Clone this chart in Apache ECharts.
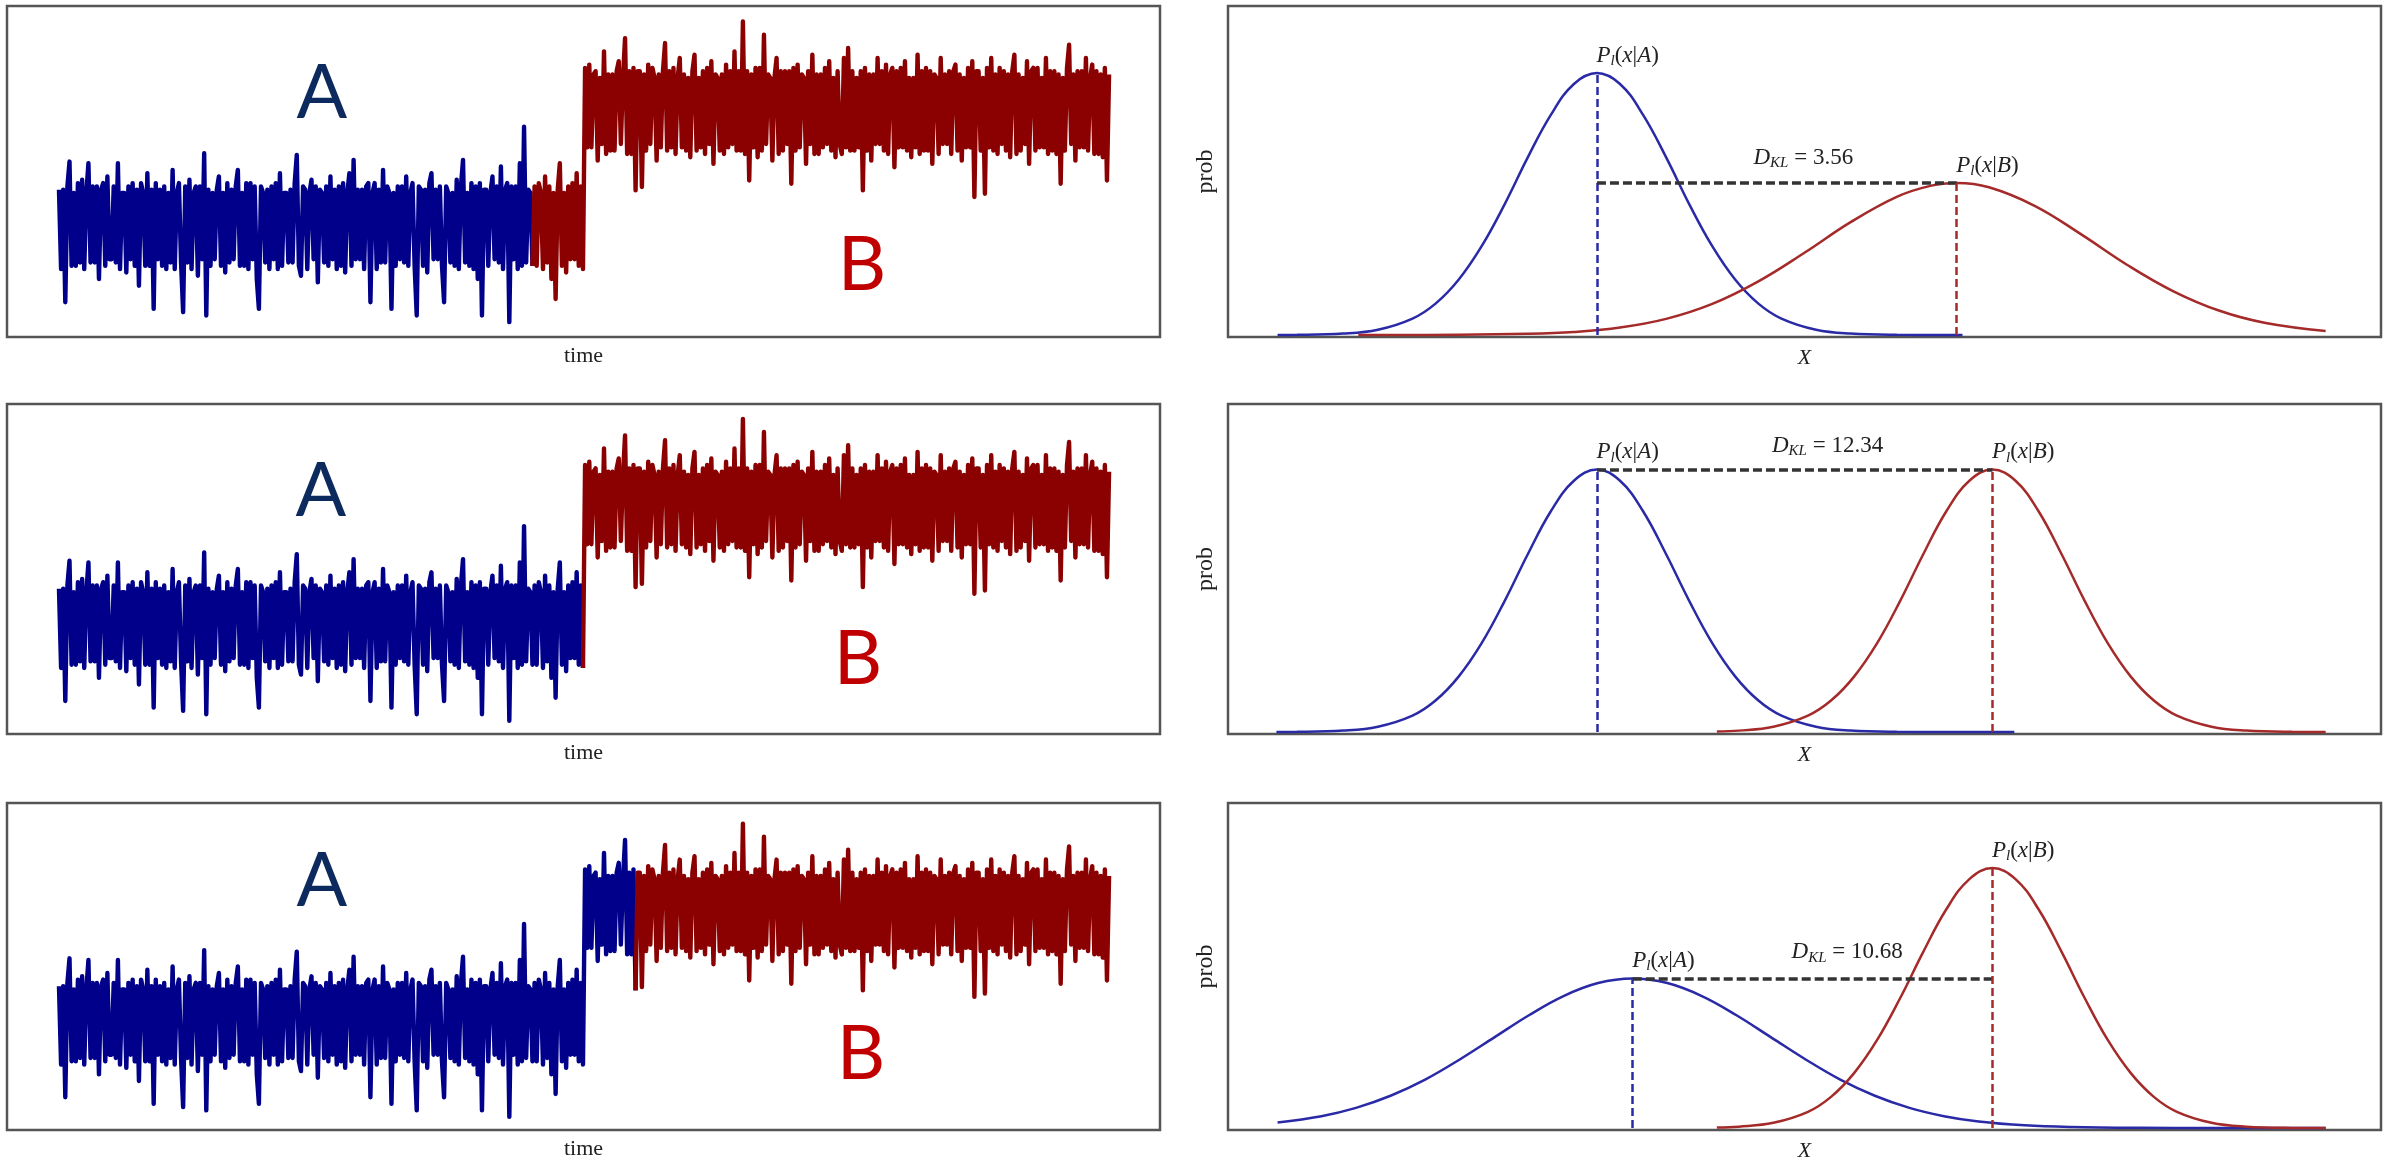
<!DOCTYPE html>
<html>
<head>
<meta charset="utf-8">
<script src="https://cdn.jsdelivr.net/npm/echarts@6.0.0/dist/echarts.min.js"></script>
<style>
  html, body { margin: 0; padding: 0; background: #fff; }
  #chart { width: 2394px; height: 1163px; }
</style>
</head>
<body>
<div id="chart"></div>
<script>
// noise trace (same realisation in all three rows)
const noise = [
  1.1, -1.3, 1.1, -2.3, 1.2, 1.95, -1.2, 1.0, -1.2, 1.3, -1.1, 1.4, -1.3, 1.0, 1.9, -1.1, 1.2, -1.1, 1.2, -1.6, 1.1, 1.3, -1.2, 1.5, -1.0,
  -1.0, 1.2, -1.1, 1.9, -1.3, 1.0, 1.0, -1.4, 1.2, -1.0, 1.3, -1.2, 1.1, -1.8, 1.3, 1.0, -1.2, 1.6, -1.2, 1.1, -2.5, 1.3, -1.0, 1.1, -1.2,
  1.2, -1.3, 1.0, -1.1, 1.7, -1.3, 1.0, 1.3, -1.1, -2.6, 1.2, -1.1, 1.4, -1.3, 1.0, 1.2, -1.5, 1.2, -1.0, 2.2, -2.7, 1.1, -1.2, 1.0, -1.0,
  1.1, 1.5, -1.2, 1.0, -1.4, 1.3, -1.1, 1.1, -1.0, 1.2, 1.7, -1.2, 1.0, -1.2, 1.3, -1.3, 1.3, -1.0, 1.2, -1.6, -2.5, 1.2, 1.0, -1.1, 1.1,
  -1.3, 1.2, -1.0, 1.3, -1.3, 1.6, -1.2, 1.0, 1.0, -1.1, 1.1, -1.1, 1.3, 2.15, -1.2, -1.5, 1.2, 1.1, -1.3, 1.0, 1.4, -1.0, 1.2, -1.7, 1.1,
  1.0, -1.1, 1.2, -1.2, 1.5, -1.0, 1.1, -1.3, 1.2, -1.2, 1.3, -1.4, 1.0, 1.6, -1.2, 2.0, -1.0, 1.1, -1.0, 1.1, -1.3, 1.2, 1.3, -2.3, 1.0,
  1.3, -1.3, 1.1, -1.1, 1.7, -1.1, 1.2, 1.0, -2.5, 1.0, -1.2, 1.2, -1.0, 1.2, -1.1, 1.5, -1.2, 1.0, 1.3, -1.2, -2.7, 1.2, 1.1, -1.2, 1.1,
  -1.4, 1.3, 1.6, -1.0, 1.1, -1.0, 1.2, -1.2, -2.3, 1.2, 1.0, -1.1, 1.0, -1.2, 1.4, -1.3, 1.2, 2.0, -1.1, 1.0, -1.2, 1.3, -1.3, 1.2, -1.6,
  1.3, -2.7, 1.1, 1.1, -1.2, 1.0, 1.5, -1.0, 1.2, -1.1, 1.8, -1.3, 1.1, 1.3, -2.9, 1.2, -1.0, 1.2, -1.3, 1.9, -1.2, 3.0, -1.1, 1.1, 1.0,
  -1.2, 1.2, -1.2, 1.3, 1.0, -1.3, 1.5, -1.1, 1.2, -1.6, 1.0, -2.2, 1.1, 1.9, -1.2, 1.0, -1.4, 1.2, -1.0, 1.3, -1.0, 1.6, -1.2, 1.2, -1.3,
  1.3, -1.1, 1.4, -1.1, 1.1, 1.2, -1.5, 1.0, -1.0, 1.8, -1.3, 1.1, -1.2, 1.1, -1.2, 1.2, 1.5, -1.0, 1.0, 2.2, -1.3, 1.2, -1.3, 1.3, -2.4,
  1.2, 1.2, -2.3, 1.1, -1.2, 1.4, -1.0, 1.3, 1.0, -1.5, 1.1, -1.1, 1.2, 2.05, -1.2, 1.2, -1.1, 1.3, -1.3, 1.0, 1.6, -1.1, 1.1, -1.2, 1.0,
  -1.4, 1.2, 1.7, -1.2, 1.0, -1.1, 1.2, -1.3, 1.3, -1.0, 1.5, -1.6, 1.1, 1.0, -1.2, 1.1, -1.3, 1.4, -1.1, 1.2, -1.0, 1.8, -1.2, 1.2, -1.2,
  2.7, -1.3, 1.2, -2.1, 1.1, -1.1, 1.3, -1.4, 1.3, -1.2, 2.3, -1.0, 1.1, 1.0, -1.5, 1.0, 1.6, -1.3, 1.2, -1.2, 1.2, -1.0, 1.2, -2.2, 1.3,
  -1.2, 1.4, -1.1, 1.1, 1.0, -1.6, 1.2, -1.0, 1.7, -1.3, 1.1, -1.3, 1.1, -1.1, 1.3, -1.0, 1.5, -1.2, 1.0, -1.4, 1.2, -1.0, -1.3, 1.6, -1.1,
  1.9, -1.2, 1.2, -1.2, 1.0, -1.1, 1.2, -2.4, 1.3, -1.2, 1.1, -1.5, 1.1, -1.0, 1.6, -1.0, 1.2, -1.2, 1.4, -1.3, 1.1, 1.3, -1.7, 1.2, -1.1,
  1.3, -1.1, 1.5, -1.2, 1.0, -1.4, 1.0, -1.1, 1.7, -1.3, 1.2, -1.2, 1.3, -1.2, 1.2, -1.6, 1.1, 1.0, -1.3, 1.6, -1.0, 1.1, -1.0, 1.2, -1.3,
  1.2, 1.4, -1.2, 1.1, -1.5, 1.0, -1.1, 1.3, -1.1, 1.5, -2.6, 1.2, 1.2, -1.2, 1.0, -2.5, 1.3, -1.1, 1.6, -1.2, 1.1, -1.3, 1.3, -1.0, 1.2,
  -1.2, 1.1, -1.4, 1.2, 1.7, -1.3, 1.1, -1.2, 1.0, -1.0, 1.5, -1.6, 1.2, 1.3, -1.2, 1.3, -1.1, 1.0, -1.1, 1.6, -1.3, 1.2, -1.2, 1.2, -1.3,
  1.1, -2.2, 1.0, -1.2, 1.3, 2.0, -1.0, 1.1, -1.5, 1.2, -1.1, 1.2, -1.1, 1.6, -1.2, 1.0, 1.4, -1.3, 1.2, -1.3, 1.1, -1.4, 1.3, -2.1, 1.1
]
const stepAt = 250 // index where the mean jumps up
const levelsTop = [3.35, 6.83]
const levelsMid = [3.3, 6.85]
const levelsBot = [3.3, 6.67]
const splitTop = 225 // blue -> red
const splitMid = 249
const splitBot = 274

// density curves [x, prob]
const topA = [[4.3, 0.0002], [6, 0.0005], [10, 0.0043], [13, 0.0161], [16, 0.050], [18, 0.0955], [20, 0.168], [22, 0.270], [24, 0.398], [26, 0.540], [28, 0.669], [30, 0.763], [32, 0.796], [34, 0.763], [36, 0.669], [38, 0.540], [40, 0.398], [42, 0.270], [44, 0.168], [46, 0.0955], [48, 0.050], [51, 0.0161], [54, 0.0043], [58, 0.0005], [62, 0], [63.7, 0]]
const topB = [[11.3, 0], [20, 0.0006], [26, 0.0035], [30, 0.0094], [34, 0.0227], [38, 0.049], [42, 0.0945], [46, 0.163], [50, 0.250], [54, 0.343], [58, 0.420], [61, 0.454], [63.2, 0.462], [66, 0.449], [70, 0.392], [74, 0.306], [78, 0.213], [82, 0.133], [86, 0.0737], [90, 0.0366], [95.2, 0.0124]]
const midA = [[4.2, 0.0002], [6, 0.0005], [10, 0.0043], [13, 0.0162], [16, 0.050], [18, 0.096], [20, 0.169], [22, 0.271], [24, 0.400], [26, 0.542], [28, 0.673], [30, 0.766], [32, 0.80], [34, 0.766], [36, 0.673], [38, 0.542], [40, 0.400], [42, 0.271], [44, 0.169], [46, 0.096], [48, 0.050], [51, 0.0162], [54, 0.0043], [58, 0.0005], [62, 0], [68.2, 0]]
const midB = [[42.4, 0.0017], [44.3, 0.0043], [47.3, 0.0162], [50.3, 0.050], [52.3, 0.096], [54.3, 0.169], [56.3, 0.271], [58.3, 0.400], [60.3, 0.542], [62.3, 0.673], [64.3, 0.766], [66.3, 0.80], [68.3, 0.766], [70.3, 0.673], [72.3, 0.542], [74.3, 0.400], [76.3, 0.271], [78.3, 0.169], [80.3, 0.096], [82.3, 0.050], [85.3, 0.0162], [88.3, 0.0043], [92.3, 0.0005], [95.2, 0.0001]]
const botA = [[4.3, 0.017], [8.1, 0.0366], [11.1, 0.0622], [14.1, 0.0994], [17.1, 0.149], [20.1, 0.211], [23.1, 0.279], [26.1, 0.347], [29.1, 0.406], [32.1, 0.446], [35.1, 0.46], [38.1, 0.446], [41.1, 0.406], [44.1, 0.347], [47.1, 0.279], [50.1, 0.211], [53.1, 0.149], [56.1, 0.0994], [59.1, 0.0622], [62.1, 0.0366], [65.1, 0.0202], [69.1, 0.0083], [73.1, 0.0031], [79.1, 0.0006], [85.1, 0.0001], [95.2, 0]]
const botB = [[42.4, 0.0017], [44.3, 0.0043], [47.3, 0.0162], [50.3, 0.050], [52.3, 0.096], [54.3, 0.169], [56.3, 0.271], [58.3, 0.400], [60.3, 0.542], [62.3, 0.673], [64.3, 0.766], [66.3, 0.80], [68.3, 0.766], [70.3, 0.673], [72.3, 0.542], [74.3, 0.400], [76.3, 0.271], [78.3, 0.169], [80.3, 0.096], [82.3, 0.050], [85.3, 0.0162], [88.3, 0.0043], [92.3, 0.0005], [95.2, 0.0001]]

const muTop = [32, 63.2]
const peakTop = [0.796, 0.462]
const muMid = [32, 66.3]
const peakMid = [0.80, 0.80]
const muBot = [35.1, 66.3]
const peakBot = [0.46, 0.80]
const dklText = ['3.56', '12.34', '10.68']
const dklAt = [[49.9, 0.538], [52.0, 0.872], [53.7, 0.541]]

const serif = 'Liberation Serif'
const navy = '#00008b'
const maroon = '#8b0000'
const blueC = '#2a2aa6'
const redC = '#a52a2a'

const rows = [{ top: 6, height: 331 }, { top: 404, height: 330 }, { top: 803, height: 327 }]

const rich = {
  i: { fontFamily: serif, fontStyle: 'italic', fontSize: 23, color: '#222', lineHeight: 26 },
  n: { fontFamily: serif, fontSize: 23, color: '#222', lineHeight: 26 },
  s: { fontFamily: serif, fontStyle: 'italic', fontSize: 15, color: '#222', lineHeight: 14, verticalAlign: 'bottom' }
}

function noisePoints (levels, from, to) {
  const pts = []
  for (let i = from; i <= to; i++) {
    pts.push([i, noise[i] + (i < stepAt ? levels[0] : levels[1])])
  }
  return pts
}

function timeSeries (gi, levels, split) {
  const base = { type: 'line', xAxisIndex: gi, yAxisIndex: gi, symbol: 'none', silent: true }
  return [
    Object.assign({}, base, { data: noisePoints(levels, 0, split), lineStyle: { color: navy, width: 4.4, join: 'round' } }),
    Object.assign({}, base, { data: noisePoints(levels, split, noise.length - 1), lineStyle: { color: maroon, width: 4.4, join: 'round' } })
  ]
}

function pLabel (which) {
  return {
    show: true,
    position: [0, -4],
    align: 'left',
    verticalAlign: 'bottom',
    formatter: () => '{i|P}{s|l}{n|(}{i|x}{n||}{i|' + which + '}{n|)}',
    rich
  }
}

function distSeries (gi, curveA, curveB, mu, peak, k) {
  const h = Math.min(peak[0], peak[1])
  const dash = (color, w) => ({ color, width: w, type: [8, 4] })
  const hidden = { color: 'rgba(0,0,0,0)' }
  return [
    {
      type: 'line', xAxisIndex: gi, yAxisIndex: gi, data: curveA, smooth: 0.4, symbol: 'none',
      lineStyle: { color: blueC, width: 2.5 },
      markLine: {
        symbol: 'none', silent: true, animation: false, label: { show: false },
        data: [
          [{ coord: [mu[0], 0], lineStyle: dash(blueC, 2.5) }, { coord: [mu[0], peak[0]] }],
          [{ coord: [mu[0], h], lineStyle: { color: '#333', width: 3.5, type: [9, 4] } }, { coord: [mu[1], h] }]
        ]
      },
      markPoint: {
        symbol: 'circle', symbolSize: 1, itemStyle: hidden, silent: true, animation: false,
        data: [
          { coord: [mu[0], peak[0]], label: pLabel('A') },
          {
            coord: dklAt[k],
            label: {
              show: true, position: 'inside', align: 'center', verticalAlign: 'middle',
              formatter: () => '{i|D}{s|KL}{n| = ' + dklText[k] + '}', rich
            }
          }
        ]
      }
    },
    {
      type: 'line', xAxisIndex: gi, yAxisIndex: gi, data: curveB, smooth: 0.4, symbol: 'none',
      lineStyle: { color: redC, width: 2.5 },
      markLine: {
        symbol: 'none', silent: true, animation: false, label: { show: false },
        data: [[{ coord: [mu[1], 0], lineStyle: dash(redC, 2.5) }, { coord: [mu[1], peak[1]] }]]
      },
      markPoint: {
        symbol: 'circle', symbolSize: 1, itemStyle: hidden, silent: true, animation: false,
        data: [{ coord: [mu[1], peak[1]], label: pLabel('B') }]
      }
    }
  ]
}

const grid = []
const xAxis = []
const yAxis = []
const hideAxis = { axisLine: { show: false }, axisTick: { show: false }, axisLabel: { show: false }, splitLine: { show: false } }
rows.forEach((r, ri) => {
  grid.push({ left: 7, width: 1153, top: r.top, height: r.height, show: true, borderColor: '#555', borderWidth: 2.5, backgroundColor: '#fff' })
  grid.push({ left: 1228, width: 1153, top: r.top, height: r.height, show: true, borderColor: '#555', borderWidth: 2.5, backgroundColor: '#fff' })
  xAxis.push(Object.assign({
    type: 'value', gridIndex: ri * 2, min: -24.7, max: 523.2,
    name: 'time', nameLocation: 'middle', nameGap: 8,
    nameTextStyle: { fontFamily: serif, fontSize: 22, color: '#222', verticalAlign: 'top' }
  }, hideAxis))
  xAxis.push(Object.assign({
    type: 'value', gridIndex: ri * 2 + 1, min: 0, max: 100,
    name: 'X', nameLocation: 'middle', nameGap: 10,
    nameTextStyle: { fontFamily: serif, fontStyle: 'italic', fontSize: 22, color: '#222', verticalAlign: 'top' }
  }, hideAxis))
  yAxis.push(Object.assign({ type: 'value', gridIndex: ri * 2, min: 0, max: 10 }, hideAxis))
  yAxis.push(Object.assign({
    type: 'value', gridIndex: ri * 2 + 1, min: -0.006, max: 1,
    name: 'prob', nameLocation: 'middle', nameGap: 10,
    nameTextStyle: { fontFamily: serif, fontSize: 24, color: '#222' }
  }, hideAxis))
})

const series = [].concat(
  timeSeries(0, levelsTop, splitTop),
  distSeries(1, topA, topB, muTop, peakTop, 0),
  timeSeries(2, levelsMid, splitMid),
  distSeries(3, midA, midB, muMid, peakMid, 1),
  timeSeries(4, levelsBot, splitBot),
  distSeries(5, botA, botB, muBot, peakBot, 2)
)

// big A / B letters in the time panels
const letterPos = [[322, 94, 862, 266], [321, 492, 858, 660], [322, 882, 861, 1055]]
const graphic = []
letterPos.forEach(p => {
  graphic.push({ type: 'text', x: p[0], y: p[1], z: 10, style: { text: 'A', font: '75px Lato', fill: '#0d2a5e', align: 'center', verticalAlign: 'middle' } })
  graphic.push({ type: 'text', x: p[2], y: p[3], z: 10, style: { text: 'B', font: '75px Lato', fill: '#c00000', align: 'center', verticalAlign: 'middle' } })
})

const chart = echarts.init(document.getElementById('chart'))
chart.setOption({
  animation: false,
  backgroundColor: '#fff',
  grid,
  xAxis,
  yAxis,
  series,
  graphic
})
</script>
</body>
</html>
